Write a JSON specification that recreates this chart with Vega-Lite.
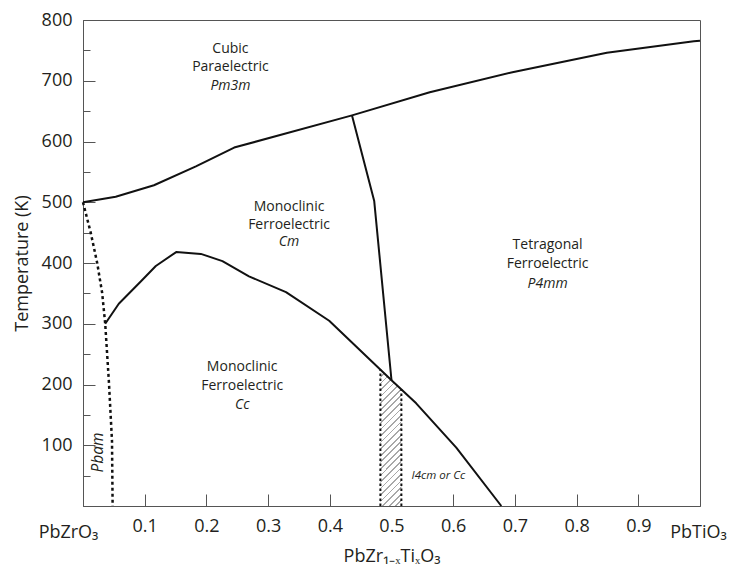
{
  "$schema": "https://vega.github.io/schema/vega-lite/v6.json",
  "width": 617,
  "height": 486,
  "autosize": {"type": "none"},
  "padding": {"left": 83, "top": 20, "right": 30, "bottom": 67},
  "background": "white",
  "config": {
    "view": {"stroke": "#555", "strokeWidth": 1},
    "font": "Open Sans",
    "axis": {"labelFont": "Open Sans", "titleFont": "Open Sans", "titleFontWeight": "normal", "labelColor": "#231f20", "titleColor": "#231f20", "domainColor": "#555", "tickColor": "#555", "grid": false}
  },
  "datasets": {
    "lines": [
      {"name": "cubic", "x": 0, "T": 500},
      {"name": "cubic", "x": 0.053, "T": 509},
      {"name": "cubic", "x": 0.115, "T": 528},
      {"name": "cubic", "x": 0.183, "T": 559},
      {"name": "cubic", "x": 0.245, "T": 590},
      {"name": "cubic", "x": 0.436, "T": 643},
      {"name": "cubic", "x": 0.562, "T": 681},
      {"name": "cubic", "x": 0.696, "T": 714},
      {"name": "cubic", "x": 0.849, "T": 746},
      {"name": "cubic", "x": 0.99, "T": 765},
      {"name": "cubic", "x": 1.0, "T": 766},
      {"name": "mpb", "x": 0.436, "T": 643},
      {"name": "mpb", "x": 0.472, "T": 502},
      {"name": "mpb", "x": 0.5, "T": 207},
      {"name": "cm-cc", "x": 0.036, "T": 300},
      {"name": "cm-cc", "x": 0.058, "T": 333},
      {"name": "cm-cc", "x": 0.094, "T": 370},
      {"name": "cm-cc", "x": 0.118, "T": 395},
      {"name": "cm-cc", "x": 0.151, "T": 418},
      {"name": "cm-cc", "x": 0.191, "T": 415},
      {"name": "cm-cc", "x": 0.226, "T": 403},
      {"name": "cm-cc", "x": 0.269, "T": 378},
      {"name": "cm-cc", "x": 0.329, "T": 352},
      {"name": "cm-cc", "x": 0.399, "T": 305},
      {"name": "cm-cc", "x": 0.5, "T": 207},
      {"name": "cm-cc", "x": 0.54, "T": 169},
      {"name": "cm-cc", "x": 0.605, "T": 96},
      {"name": "cm-cc", "x": 0.678, "T": 0},
      {"name": "pbam", "x": 0, "T": 500},
      {"name": "pbam", "x": 0.0125, "T": 450},
      {"name": "pbam", "x": 0.023, "T": 400},
      {"name": "pbam", "x": 0.031, "T": 351},
      {"name": "pbam", "x": 0.036, "T": 300},
      {"name": "pbam", "x": 0.042, "T": 204},
      {"name": "pbam", "x": 0.047, "T": 107},
      {"name": "pbam", "x": 0.048, "T": 0},
      {"name": "i4cm-left", "x": 0.482, "T": 0},
      {"name": "i4cm-left", "x": 0.482, "T": 224.5},
      {"name": "i4cm-right", "x": 0.516, "T": 0},
      {"name": "i4cm-right", "x": 0.516, "T": 192}
    ],
    "region": [
      {"x": 0.482, "T": 224.5},
      {"x": 0.5, "T": 207},
      {"x": 0.516, "T": 192}
    ],
    "labels": [
      {"role": "phase", "text": "Cubic", "x": 0.239, "T": 753},
      {"role": "phase", "text": "Paraelectric", "x": 0.239, "T": 722},
      {"role": "group", "text": "Pm3m", "x": 0.239, "T": 692},
      {"role": "phase", "text": "Monoclinic", "x": 0.334, "T": 493},
      {"role": "phase", "text": "Ferroelectric", "x": 0.334, "T": 463},
      {"role": "group", "text": "Cm", "x": 0.334, "T": 434},
      {"role": "phase", "text": "Tetragonal", "x": 0.753, "T": 429},
      {"role": "phase", "text": "Ferroelectric", "x": 0.753, "T": 398},
      {"role": "group", "text": "P4mm", "x": 0.753, "T": 366},
      {"role": "phase", "text": "Monoclinic", "x": 0.258, "T": 228},
      {"role": "phase", "text": "Ferroelectric", "x": 0.258, "T": 197},
      {"role": "group", "text": "Cc", "x": 0.258, "T": 166},
      {"role": "pbam", "text": "Pbam", "x": 0.024, "T": 88},
      {"role": "note", "text": "I4cm or Cc", "x": 0.576, "T": 50}
    ]
  },
  "encoding": {
    "x": {
      "field": "x",
      "type": "quantitative",
      "scale": {"domain": [0, 1], "nice": false, "zero": false},
      "axis": {
        "title": "PbZr₁₋ₓTiₓO₃",
        "titleFontSize": 18,
        "titlePadding": 6,
        "values": [0, 0.1, 0.2, 0.3, 0.4, 0.5, 0.6, 0.7, 0.8, 0.9, 1],
        "labelExpr": "datum.value === 0 ? 'PbZrO₃' : datum.value === 1 ? 'PbTiO₃' : datum.label",
        "labelFlush": false,
        "labelOverlap": false,
        "labelFontSize": 18,
        "labelPadding": {"condition": {"test": "datum.value === 0 || datum.value === 1", "value": 29}, "value": 23},
        "labelOffset": {"condition": [{"test": "datum.value === 0", "value": -15}, {"test": "datum.value === 1", "value": -2}], "value": 0},
        "tickSize": -12,
        "tickOpacity": {"condition": {"test": "datum.value === 0 || datum.value === 1", "value": 0}, "value": 1}
      }
    },
    "y": {
      "field": "T",
      "type": "quantitative",
      "scale": {"domain": [0, 800], "nice": false},
      "axis": {
        "title": "Temperature (K)",
        "titleFontSize": 18,
        "titlePadding": 10,
        "values": [0, 50, 100, 150, 200, 250, 300, 350, 400, 450, 500, 550, 600, 650, 700, 750, 800],
        "labelExpr": "datum.value % 100 === 0 && datum.value > 0 ? datum.label : ''",
        "labelOverlap": false,
        "labelFontSize": 18,
        "labelPadding": 23,
        "tickSize": {"condition": {"test": "datum.value % 100 === 0", "value": -12}, "value": -7}
      }
    }
  },
  "layer": [
    {
      "data": {"name": "region"},
      "mark": {
        "type": "area",
        "fill": {
          "gradient": "linear",
          "x1": 0, "y1": 0, "x2": 0.174, "y2": 1.128,
          "stops": [
            {"offset": 0, "color": "#a8a8a8"}, {"offset": 0.011, "color": "#a8a8a8"}, {"offset": 0.011, "color": "#ffffff"}, {"offset": 0.0417, "color": "#ffffff"},
            {"offset": 0.0417, "color": "#a8a8a8"}, {"offset": 0.0527, "color": "#a8a8a8"}, {"offset": 0.0527, "color": "#ffffff"}, {"offset": 0.0833, "color": "#ffffff"},
            {"offset": 0.0833, "color": "#a8a8a8"}, {"offset": 0.0943, "color": "#a8a8a8"}, {"offset": 0.0943, "color": "#ffffff"}, {"offset": 0.125, "color": "#ffffff"},
            {"offset": 0.125, "color": "#a8a8a8"}, {"offset": 0.136, "color": "#a8a8a8"}, {"offset": 0.136, "color": "#ffffff"}, {"offset": 0.1667, "color": "#ffffff"},
            {"offset": 0.1667, "color": "#a8a8a8"}, {"offset": 0.1777, "color": "#a8a8a8"}, {"offset": 0.1777, "color": "#ffffff"}, {"offset": 0.2083, "color": "#ffffff"},
            {"offset": 0.2083, "color": "#a8a8a8"}, {"offset": 0.2193, "color": "#a8a8a8"}, {"offset": 0.2193, "color": "#ffffff"}, {"offset": 0.25, "color": "#ffffff"},
            {"offset": 0.25, "color": "#a8a8a8"}, {"offset": 0.261, "color": "#a8a8a8"}, {"offset": 0.261, "color": "#ffffff"}, {"offset": 0.2917, "color": "#ffffff"},
            {"offset": 0.2917, "color": "#a8a8a8"}, {"offset": 0.3027, "color": "#a8a8a8"}, {"offset": 0.3027, "color": "#ffffff"}, {"offset": 0.3333, "color": "#ffffff"},
            {"offset": 0.3333, "color": "#a8a8a8"}, {"offset": 0.3443, "color": "#a8a8a8"}, {"offset": 0.3443, "color": "#ffffff"}, {"offset": 0.375, "color": "#ffffff"},
            {"offset": 0.375, "color": "#a8a8a8"}, {"offset": 0.386, "color": "#a8a8a8"}, {"offset": 0.386, "color": "#ffffff"}, {"offset": 0.4167, "color": "#ffffff"},
            {"offset": 0.4167, "color": "#a8a8a8"}, {"offset": 0.4277, "color": "#a8a8a8"}, {"offset": 0.4277, "color": "#ffffff"}, {"offset": 0.4583, "color": "#ffffff"},
            {"offset": 0.4583, "color": "#a8a8a8"}, {"offset": 0.4693, "color": "#a8a8a8"}, {"offset": 0.4693, "color": "#ffffff"}, {"offset": 0.5, "color": "#ffffff"},
            {"offset": 0.5, "color": "#a8a8a8"}, {"offset": 0.511, "color": "#a8a8a8"}, {"offset": 0.511, "color": "#ffffff"}, {"offset": 0.5417, "color": "#ffffff"},
            {"offset": 0.5417, "color": "#a8a8a8"}, {"offset": 0.5527, "color": "#a8a8a8"}, {"offset": 0.5527, "color": "#ffffff"}, {"offset": 0.5833, "color": "#ffffff"},
            {"offset": 0.5833, "color": "#a8a8a8"}, {"offset": 0.5943, "color": "#a8a8a8"}, {"offset": 0.5943, "color": "#ffffff"}, {"offset": 0.625, "color": "#ffffff"},
            {"offset": 0.625, "color": "#a8a8a8"}, {"offset": 0.636, "color": "#a8a8a8"}, {"offset": 0.636, "color": "#ffffff"}, {"offset": 0.6667, "color": "#ffffff"},
            {"offset": 0.6667, "color": "#a8a8a8"}, {"offset": 0.6777, "color": "#a8a8a8"}, {"offset": 0.6777, "color": "#ffffff"}, {"offset": 0.7083, "color": "#ffffff"},
            {"offset": 0.7083, "color": "#a8a8a8"}, {"offset": 0.7193, "color": "#a8a8a8"}, {"offset": 0.7193, "color": "#ffffff"}, {"offset": 0.75, "color": "#ffffff"},
            {"offset": 0.75, "color": "#a8a8a8"}, {"offset": 0.761, "color": "#a8a8a8"}, {"offset": 0.761, "color": "#ffffff"}, {"offset": 0.7917, "color": "#ffffff"},
            {"offset": 0.7917, "color": "#a8a8a8"}, {"offset": 0.8027, "color": "#a8a8a8"}, {"offset": 0.8027, "color": "#ffffff"}, {"offset": 0.8333, "color": "#ffffff"},
            {"offset": 0.8333, "color": "#a8a8a8"}, {"offset": 0.8443, "color": "#a8a8a8"}, {"offset": 0.8443, "color": "#ffffff"}, {"offset": 0.875, "color": "#ffffff"},
            {"offset": 0.875, "color": "#a8a8a8"}, {"offset": 0.886, "color": "#a8a8a8"}, {"offset": 0.886, "color": "#ffffff"}, {"offset": 0.9167, "color": "#ffffff"},
            {"offset": 0.9167, "color": "#a8a8a8"}, {"offset": 0.9277, "color": "#a8a8a8"}, {"offset": 0.9277, "color": "#ffffff"}, {"offset": 0.9583, "color": "#ffffff"},
            {"offset": 0.9583, "color": "#a8a8a8"}, {"offset": 0.9693, "color": "#a8a8a8"}, {"offset": 0.9693, "color": "#ffffff"}, {"offset": 1, "color": "#ffffff"}
          ]
        }
      }
    },
    {
      "data": {"name": "lines"},
      "transform": [{"filter": {"field": "name", "oneOf": ["cubic", "mpb", "cm-cc"]}}],
      "mark": {"type": "line", "color": "#111", "strokeWidth": 2, "strokeJoin": "round"},
      "encoding": {"detail": {"field": "name"}}
    },
    {
      "data": {"name": "lines"},
      "transform": [{"filter": {"field": "name", "oneOf": ["pbam"]}}],
      "mark": {"type": "line", "color": "#111", "strokeWidth": 2.5, "strokeDash": [3, 3]},
      "encoding": {"detail": {"field": "name"}}
    },
    {
      "data": {"name": "lines"},
      "transform": [{"filter": {"field": "name", "oneOf": ["i4cm-left", "i4cm-right"]}}],
      "mark": {"type": "line", "color": "#111", "strokeWidth": 2, "strokeDash": [2.5, 2.5]},
      "encoding": {"detail": {"field": "name"}}
    },
    {
      "data": {"name": "labels"},
      "transform": [{"filter": {"field": "role", "equal": "phase"}}],
      "mark": {"type": "text", "font": "Open Sans", "fontSize": 14, "color": "#231f20", "align": "center", "baseline": "middle"},
      "encoding": {"text": {"field": "text"}}
    },
    {
      "data": {"name": "labels"},
      "transform": [{"filter": {"field": "role", "equal": "group"}}],
      "mark": {"type": "text", "font": "Open Sans", "fontSize": 14, "fontStyle": "italic", "color": "#231f20", "align": "center", "baseline": "middle"},
      "encoding": {"text": {"field": "text"}}
    },
    {
      "data": {"name": "labels"},
      "transform": [{"filter": {"field": "role", "equal": "pbam"}}],
      "mark": {"type": "text", "font": "Open Sans", "fontSize": 15.5, "fontStyle": "italic", "angle": 270, "color": "#231f20", "align": "center", "baseline": "middle"},
      "encoding": {"text": {"field": "text"}}
    },
    {
      "data": {"name": "labels"},
      "transform": [{"filter": {"field": "role", "equal": "note"}}],
      "mark": {"type": "text", "font": "Open Sans", "fontSize": 11.5, "fontStyle": "italic", "color": "#231f20", "align": "center", "baseline": "middle"},
      "encoding": {"text": {"field": "text"}}
    }
  ]
}
